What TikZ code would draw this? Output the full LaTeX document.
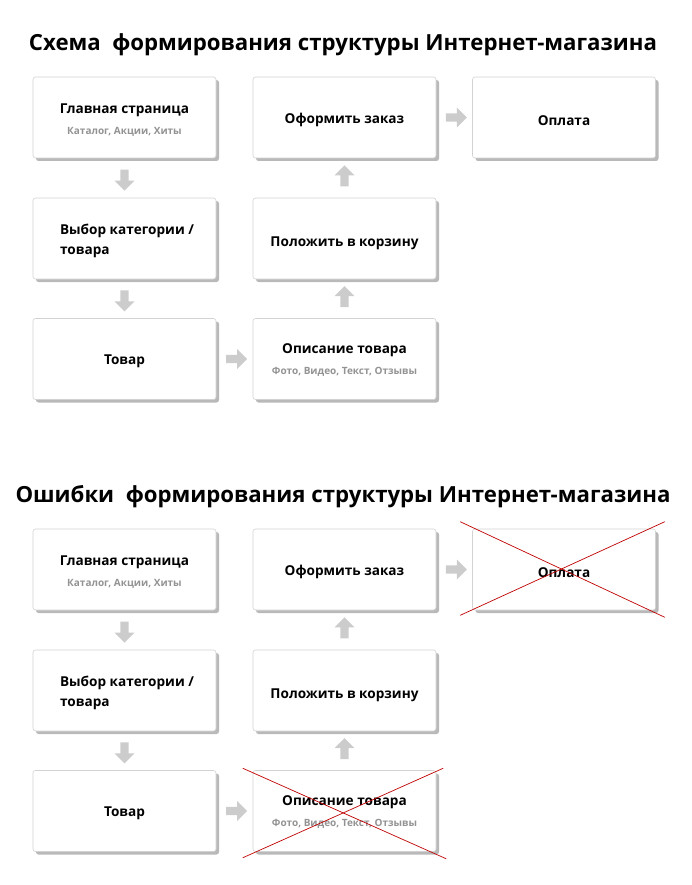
\documentclass[tikz,border=0pt]{standalone}
\usepackage{fontspec}
\setmainfont{Open Sans}
\usetikzlibrary{shapes.arrows,calc,shadows}
\begin{document}
\begin{tikzpicture}[x=1pt,y=-1pt,
  box/.style={draw=gray!35,line width=0.6pt,fill=white,rounded corners=2.5pt,minimum width=183pt,minimum height=81pt,inner sep=0pt,
    drop shadow={shadow xshift=3pt,shadow yshift=-3pt,fill=gray!55,opacity=1}},
  ttl/.style={font=\bfseries\fontsize{22.2}{26}\selectfont},
  hd/.style={font=\bfseries\fontsize{13.6}{20}\selectfont},
  sub/.style={font=\bfseries\fontsize{10}{12}\selectfont,text=gray!85},
  arr/.style={single arrow,draw=none,fill=gray!40,minimum height=21pt,minimum width=20pt,single arrow head extend=4pt,inner sep=2.5pt},
  cross/.style={draw=red!75!black,line width=0.7pt}]
\useasboundingbox (0,0) rectangle (692,885);
\foreach \o/\t/\n in {0/Схема\ \ формирования структуры Интернет-магазина/A,452/Ошибки\ \ формирования структуры Интернет-магазина/B}{
  \node[ttl] (t\n) at (343,45+\o) {\t};
  \node[box] (g\n) at (124.5,117.5+\o) {};
  \node[hd] at ($(g\n)+(0,-7)$) {Главная страница};
  \node[sub] at ($(g\n)+(0,14)$) {Каталог, Акции, Хиты};
  \node[box] (v\n) at (124.5,238.5+\o) {};
  \node[hd,align=left,anchor=west] at ($(v\n)+(-68,2)$) {Выбор категории /\\товара};
  \node[box] (w\n) at (124.5,359+\o) {};
  \node[hd] at ($(w\n)+(0,2)$) {Товар};
  \node[box] (d\n) at (344.5,359+\o) {};
  \node[hd] at ($(d\n)+(0,-9)$) {Описание товара};
  \node[sub] at ($(d\n)+(0,13)$) {Фото, Видео, Текст, Отзывы};
  \node[box] (k\n) at (344.5,238.5+\o) {};
  \node[hd] at ($(k\n)+(0,5)$) {Положить в корзину};
  \node[box] (z\n) at (344.5,117.5+\o) {};
  \node[hd] at ($(z\n)+(0,2)$) {Оформить заказ};
  \node[box] (p\n) at (564,117.5+\o) {};
  \node[hd] at ($(p\n)+(0,3)$) {Оплата};
  \node[arr,rotate=-90] (a1\n) at ($(g\n.south)!0.5!(v\n.north)$) {};
  \node[arr,rotate=-90] (a2\n) at ($(v\n.south)!0.5!(w\n.north)$) {};
  \node[arr] (a3\n) at ($(w\n.east)!0.5!(d\n.west)$) {};
  \node[arr,rotate=90] (a4\n) at ($(d\n.north)!0.5!(k\n.south)$) {};
  \node[arr,rotate=90] (a5\n) at ($(k\n.north)!0.5!(z\n.south)$) {};
  \node[arr] (a6\n) at ($(z\n.east)!0.5!(p\n.west)$) {};
}
\coordinate (c1) at ($(pB.north west)+(-12,-7)$);
\coordinate (c2) at ($(pB.south east)+(9,7)$);
\coordinate (c3) at ($(pB.south west)+(-12,5)$);
\coordinate (c4) at ($(pB.north east)+(9,-7)$);
\draw[cross] (c1) -- (c2);
\draw[cross] (c3) -- (c4);
\coordinate (e1) at ($(dB.north west)+(-10,-2)$);
\coordinate (e2) at ($(dB.south east)+(10,7)$);
\coordinate (e3) at ($(dB.south west)+(-10,6)$);
\coordinate (e4) at ($(dB.north east)+(7,-2)$);
\draw[cross] (e1) -- (e2);
\draw[cross] (e3) -- (e4);
\end{tikzpicture}
\end{document}
